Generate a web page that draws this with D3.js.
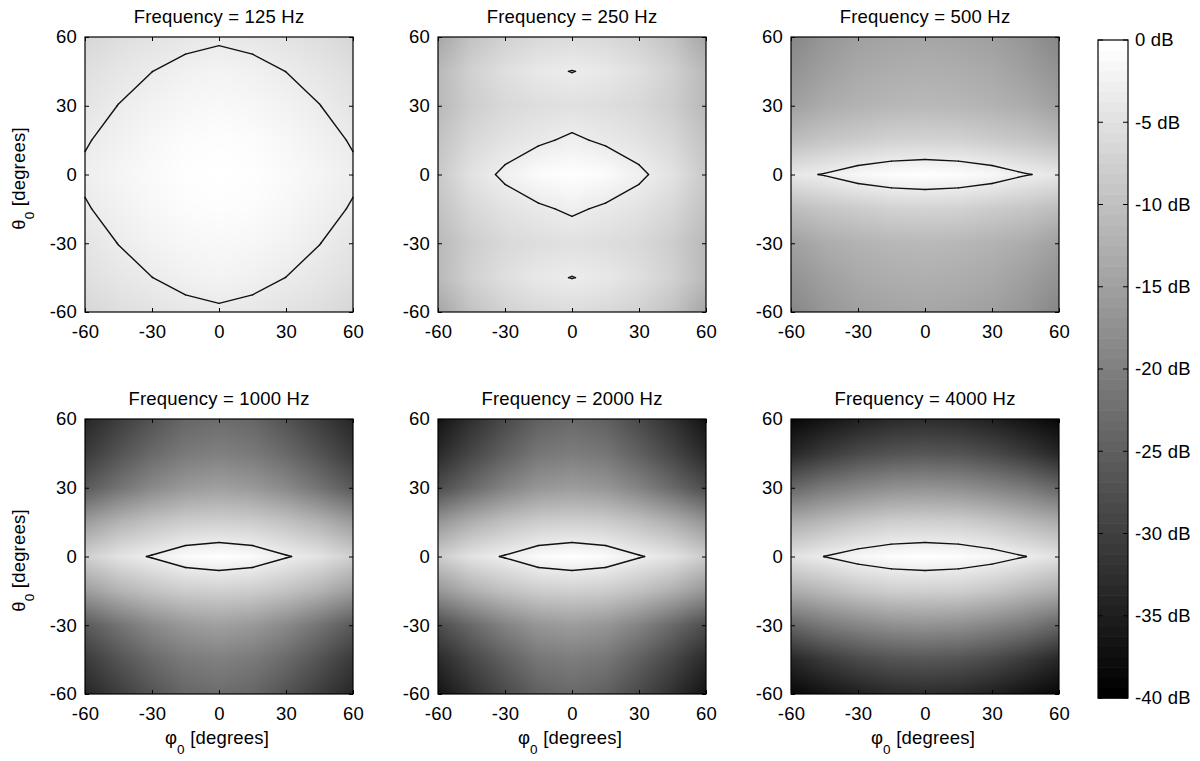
<!DOCTYPE html>
<html>
<head>
<meta charset="utf-8">
<script src="https://cdn.jsdelivr.net/npm/d3@7"></script>
<style>
  body { margin: 0; background: #fff; }
  text { font-family: "Liberation Sans", Arial, Helvetica, sans-serif; fill: #000; }
</style>
</head>
<body>
<svg id="chart" width="1200" height="761"></svg>
<script>
// ---------------- data ----------------
const phiGrid = [-60, -45, -30, -15, 0, 15, 30, 45, 60];     // columns (degrees)
const thetaGrid = [60, 45, 30, 15, 0, -15, -30, -45, -60];   // rows, top to bottom (degrees)
const frequencies = [125, 250, 500, 1000, 2000, 4000];        // Hz
const axisTicks = [-60, -30, 0, 30, 60];
const colorbarTicks = [0, -5, -10, -15, -20, -25, -30, -35, -40];
const contourLevel = -3; // dB

// response levels in dB, rows = thetaGrid, columns = phiGrid
const level125 = [
  [-6.4, -5.2, -4.4, -3.8, -3.4, -3.8, -4.4, -5.2, -6.4],
  [-5.0, -3.9, -3.02, -2.2, -1.8, -2.2, -3.02, -3.9, -5.0],
  [-4.2, -2.95, -2.0, -1.3, -1.0, -1.3, -2.0, -2.95, -4.2],
  [-3.2, -2.2, -1.2, -0.5, -0.3, -0.5, -1.2, -2.2, -3.2],
  [-2.6, -1.6, -0.8, -0.2, 0, -0.2, -0.8, -1.6, -2.6],
  [-3.2, -2.2, -1.2, -0.5, -0.3, -0.5, -1.2, -2.2, -3.2],
  [-4.2, -2.95, -2.0, -1.3, -1.0, -1.3, -2.0, -2.95, -4.2],
  [-5.0, -3.9, -3.02, -2.2, -1.8, -2.2, -3.02, -3.9, -5.0],
  [-6.4, -5.2, -4.4, -3.8, -3.4, -3.8, -4.4, -5.2, -6.4]
];
const level250 = [
  [-14.0, -9.5, -7.2, -6.0, -5.5, -6.0, -7.2, -9.5, -14.0],
  [-11.0, -7.2, -5.0, -3.6, -2.93, -3.6, -5.0, -7.2, -11.0],
  [-11.0, -7.8, -6.0, -5.2, -4.8, -5.2, -6.0, -7.8, -11.0],
  [-9.5, -6.2, -4.5, -3.49, -2.5, -3.49, -4.5, -6.2, -9.5],
  [-8.5, -4.5, -2.4, -0.6, 0, -0.6, -2.4, -4.5, -8.5],
  [-9.5, -6.2, -4.5, -3.49, -2.5, -3.49, -4.5, -6.2, -9.5],
  [-11.0, -7.8, -6.0, -5.2, -4.8, -5.2, -6.0, -7.8, -11.0],
  [-11.0, -7.2, -5.0, -3.6, -2.93, -3.6, -5.0, -7.2, -11.0],
  [-14.0, -9.5, -7.2, -6.0, -5.5, -6.0, -7.2, -9.5, -14.0]
];
const level500 = [
  [-19.0, -16.5, -15.0, -14.3, -14.0, -14.3, -15.0, -16.5, -19.0],
  [-17.0, -15.0, -13.5, -12.8, -12.5, -12.8, -13.5, -15.0, -17.0],
  [-15.0, -13.0, -12.0, -11.3, -11.0, -11.3, -12.0, -13.0, -15.0],
  [-10.5, -9.0, -8.1, -7.1, -6.9, -7.1, -8.1, -9.0, -10.5],
  [-3.83, -2.8, -1.2, -0.4, 0, -0.4, -1.2, -2.8, -3.83],
  [-10.5, -9.0, -8.1, -7.1, -6.9, -7.1, -8.1, -9.0, -10.5],
  [-15.0, -13.0, -12.0, -11.3, -11.0, -11.3, -12.0, -13.0, -15.0],
  [-17.0, -15.0, -13.5, -12.8, -12.5, -12.8, -13.5, -15.0, -17.0],
  [-19.0, -16.5, -15.0, -14.3, -14.0, -14.3, -15.0, -16.5, -19.0]
];
const level1000 = [
  [-34.0, -30.5, -27.0, -24.0, -23.0, -24.0, -27.0, -30.5, -34.0],
  [-31.0, -27.0, -23.5, -21.0, -20.0, -21.0, -23.5, -27.0, -31.0],
  [-26.0, -22.0, -18.5, -16.0, -15.0, -16.0, -18.5, -22.0, -26.0],
  [-15.5, -12.0, -9.5, -7.9, -7.4, -7.9, -9.5, -12.0, -15.5],
  [-7.5, -4.5, -2.7, -0.7, 0, -0.7, -2.7, -4.5, -7.5],
  [-15.5, -12.0, -9.5, -7.9, -7.4, -7.9, -9.5, -12.0, -15.5],
  [-26.0, -22.0, -18.5, -16.0, -15.0, -16.0, -18.5, -22.0, -26.0],
  [-31.0, -27.0, -23.5, -21.0, -20.0, -21.0, -23.5, -27.0, -31.0],
  [-34.0, -30.5, -27.0, -24.0, -23.0, -24.0, -27.0, -30.5, -34.0]
];
const level2000 = [
  [-37.0, -32.5, -28.5, -25.0, -23.5, -25.0, -28.5, -32.5, -37.0],
  [-33.5, -29.0, -25.0, -21.5, -20.5, -21.5, -25.0, -29.0, -33.5],
  [-28.0, -23.5, -19.5, -16.5, -15.5, -16.5, -19.5, -23.5, -28.0],
  [-16.5, -12.5, -9.8, -7.9, -7.4, -7.9, -9.8, -12.5, -16.5],
  [-8.0, -4.5, -2.7, -0.7, 0, -0.7, -2.7, -4.5, -8.0],
  [-16.5, -12.5, -9.8, -7.9, -7.4, -7.9, -9.8, -12.5, -16.5],
  [-28.0, -23.5, -19.5, -16.5, -15.5, -16.5, -19.5, -23.5, -28.0],
  [-33.5, -29.0, -25.0, -21.5, -20.5, -21.5, -25.0, -29.0, -33.5],
  [-37.0, -32.5, -28.5, -25.0, -23.5, -25.0, -28.5, -32.5, -37.0]
];
const level4000 = [
  [-39.0, -37.0, -35.0, -33.5, -33.0, -33.5, -35.0, -37.0, -39.0],
  [-34.0, -31.0, -28.5, -27.0, -26.5, -27.0, -28.5, -31.0, -34.0],
  [-24.0, -21.0, -19.0, -17.5, -17.0, -17.5, -19.0, -21.0, -24.0],
  [-13.0, -11.0, -9.0, -7.6, -7.4, -7.6, -9.0, -11.0, -13.0],
  [-4.8, -2.95, -1.3, -0.4, 0, -0.4, -1.3, -2.95, -4.8],
  [-13.0, -11.0, -9.0, -7.6, -7.4, -7.6, -9.0, -11.0, -13.0],
  [-24.0, -21.0, -19.0, -17.5, -17.0, -17.5, -19.0, -21.0, -24.0],
  [-34.0, -31.0, -28.5, -27.0, -26.5, -27.0, -28.5, -31.0, -34.0],
  [-39.0, -37.0, -35.0, -33.5, -33.0, -33.5, -35.0, -37.0, -39.0]
];
const levelGrids = [level125, level250, level500, level1000, level2000, level4000];

// ---------------- layout ----------------
const svg = d3.select('#chart');
const panelLeft = [85, 438, 791];
const panelTop = [37, 419];
const W = 268, H = 275;

// continuous gray for the interpolated panels, 64-step gray map for the colour bar
const grayScale = d3.scaleLinear().domain([-40, 0]).range([0, 255]).clamp(true);
const grayLevels = d3.range(64).map(k => Math.round(k / 63 * 255));
const bandColor = d3.scaleQuantize().domain([-40, 0]).range(grayLevels);

function sample(grid, phi, theta) {
  let fx = (phi - phiGrid[0]) / (phiGrid[1] - phiGrid[0]);
  let fy = (theta - thetaGrid[0]) / (thetaGrid[1] - thetaGrid[0]);
  fx = Math.max(0, Math.min(phiGrid.length - 1, fx));
  fy = Math.max(0, Math.min(thetaGrid.length - 1, fy));
  const ix = Math.min(phiGrid.length - 2, Math.floor(fx));
  const iy = Math.min(thetaGrid.length - 2, Math.floor(fy));
  const tx = fx - ix, ty = fy - iy;
  const a = grid[iy][ix], b = grid[iy][ix + 1], c = grid[iy + 1][ix], d = grid[iy + 1][ix + 1];
  return a * (1 - tx) * (1 - ty) + b * tx * (1 - ty) + c * (1 - tx) * ty + d * tx * ty;
}

function contourSegments(grid, L) {
  const segs = [];
  for (let i = 0; i < thetaGrid.length - 1; i++) {
    for (let j = 0; j < phiGrid.length - 1; j++) {
      const p0 = phiGrid[j], p1 = phiGrid[j + 1], t0 = thetaGrid[i], t1 = thetaGrid[i + 1];
      const vTL = grid[i][j], vTR = grid[i][j + 1], vBR = grid[i + 1][j + 1], vBL = grid[i + 1][j];
      const up = v => v >= L;
      const pts = [null, null, null, null];
      if (up(vTL) !== up(vTR)) pts[0] = [p0 + (L - vTL) / (vTR - vTL) * (p1 - p0), t0];
      if (up(vTR) !== up(vBR)) pts[1] = [p1, t0 + (L - vTR) / (vBR - vTR) * (t1 - t0)];
      if (up(vBL) !== up(vBR)) pts[2] = [p0 + (L - vBL) / (vBR - vBL) * (p1 - p0), t1];
      if (up(vTL) !== up(vBL)) pts[3] = [p0, t0 + (L - vTL) / (vBL - vTL) * (t1 - t0)];
      const found = pts.filter(p => p);
      if (found.length === 2) segs.push(found);
      else if (found.length === 4) {
        const centerUp = (vTL + vTR + vBR + vBL) / 4 >= L;
        if (!up(vTL) === centerUp) { segs.push([pts[0], pts[3]]); segs.push([pts[1], pts[2]]); }
        else { segs.push([pts[0], pts[1]]); segs.push([pts[2], pts[3]]); }
      }
    }
  }
  return segs;
}

levelGrids.forEach((grid, k) => {
  const col = k % 3, row = Math.floor(k / 3);
  const g = svg.append('g').attr('transform', `translate(${panelLeft[col]},${panelTop[row]})`);
  const x = d3.scaleLinear().domain([-60, 60]).range([0, W]);
  const y = d3.scaleLinear().domain([-60, 60]).range([H, 0]);

  // heat map (interpolated shading)
  const canvas = document.createElement('canvas');
  canvas.width = W; canvas.height = H;
  const ctx = canvas.getContext('2d');
  const img = ctx.createImageData(W, H);
  for (let py = 0; py < H; py++) {
    const theta = y.invert(py + 0.5);
    for (let px = 0; px < W; px++) {
      const phi = x.invert(px + 0.5);
      const gv = Math.round(grayScale(sample(grid, phi, theta)));
      const o = (py * W + px) * 4;
      img.data[o] = gv; img.data[o + 1] = gv; img.data[o + 2] = gv; img.data[o + 3] = 255;
    }
  }
  ctx.putImageData(img, 0, 0);
  g.append('image').attr('x', 0).attr('y', 0).attr('width', W).attr('height', H)
    .attr('href', canvas.toDataURL());

  // contour
  const line = d3.line().x(p => x(p[0])).y(p => y(p[1]));
  g.append('g').selectAll('path').data(contourSegments(grid, contourLevel)).join('path')
    .attr('d', line).attr('fill', 'none').attr('stroke', '#111')
    .attr('stroke-width', 1.4).attr('stroke-linecap', 'round').attr('stroke-linejoin', 'round');

  // axes (inward ticks)
  const fs = '18.5px';
  const fmt = d => String(d);
  const bottom = g.append('g').attr('transform', `translate(0,${H})`)
    .call(d3.axisBottom(x).tickValues(axisTicks).tickSize(-4).tickPadding(13).tickFormat(fmt));
  const left = g.append('g')
    .call(d3.axisLeft(y).tickValues(axisTicks).tickSize(-4).tickPadding(8).tickFormat(fmt));
  const top = g.append('g').call(d3.axisTop(x).tickValues(axisTicks).tickSize(-4).tickFormat(''));
  const right = g.append('g').attr('transform', `translate(${W},0)`)
    .call(d3.axisRight(y).tickValues(axisTicks).tickSize(-4).tickFormat(''));
  [bottom, left, top, right].forEach(a => {
    a.select('.domain').remove();
    a.selectAll('line').attr('stroke', '#000');
    a.selectAll('text').style('font-size', fs).style('font-family', '"Liberation Sans", Arial, sans-serif')
      .style('letter-spacing', '0.2px');
  });

  // frame
  g.append('rect').attr('width', W).attr('height', H).attr('fill', 'none')
    .attr('stroke', '#000').attr('stroke-width', 1.2);

  // title
  g.append('text').attr('x', W / 2).attr('y', -14).attr('text-anchor', 'middle')
    .style('font-size', '18.5px').style('letter-spacing', '0.2px')
    .text(`Frequency = ${frequencies[k]} Hz`);

  // y label
  if (col === 0) {
    const yl = svg.append('text')
      .attr('transform', `translate(25,${panelTop[row] + H / 2 + 4}) rotate(-90)`)
      .attr('text-anchor', 'middle').style('font-size', '18.5px').style('letter-spacing', '0.2px');
    yl.append('tspan').text('θ');
    yl.append('tspan').attr('dy', 9).style('font-size', '13.5px').text('0');
    yl.append('tspan').attr('dy', -9).text(' [degrees]');
  }
  // x label
  if (row === 1) {
    const xl = svg.append('text')
      .attr('x', panelLeft[col] + W / 2 - 2).attr('y', panelTop[row] + H + 50)
      .attr('text-anchor', 'middle').style('font-size', '18.5px').style('letter-spacing', '0.2px');
    xl.append('tspan').text('φ');
    xl.append('tspan').attr('dy', 10).style('font-size', '13.5px').text('0');
    xl.append('tspan').attr('dy', -10).text(' [degrees]');
  }
});

// ---------------- colorbar ----------------
const cbX = 1098, cbW = 30;
const yC = d3.scaleLinear().domain([0, -40]).range([40, 698]);
const nBands = 64;
const bandDb = d3.range(nBands).map(k => -40 + (k + 0.5) * 40 / nBands);
const cb = svg.append('g');
cb.selectAll('rect').data(bandDb).join('rect')
  .attr('x', cbX).attr('width', cbW)
  .attr('y', d => yC(d + 20 / nBands))
  .attr('height', d => yC(d - 20 / nBands) - yC(d + 20 / nBands) + 0.6)
  .attr('fill', d => { const v = bandColor(d); return `rgb(${v},${v},${v})`; });
cb.append('rect').attr('x', cbX).attr('y', yC(0)).attr('width', cbW).attr('height', yC(-40) - yC(0))
  .attr('fill', 'none').attr('stroke', '#000').attr('stroke-width', 1.2);
const cbTicks = cb.append('g').selectAll('g').data(colorbarTicks).join('g');
cbTicks.append('line').attr('x1', cbX).attr('x2', cbX + 5).attr('y1', d => yC(d)).attr('y2', d => yC(d))
  .attr('stroke', '#000');
cbTicks.append('line').attr('x1', cbX + cbW - 5).attr('x2', cbX + cbW).attr('y1', d => yC(d)).attr('y2', d => yC(d))
  .attr('stroke', '#000');
cbTicks.append('text').attr('x', cbX + cbW + 7).attr('y', d => yC(d)).attr('dy', '0.35em')
  .style('font-size', '18.5px').style('letter-spacing', '0.2px')
  .text(d => `${d} dB`);
</script>
</body>
</html>
